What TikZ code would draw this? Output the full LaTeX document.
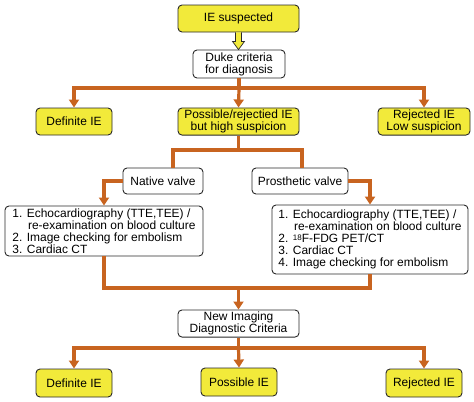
\documentclass[tikz,border=0pt]{standalone}
\usepackage{fontspec}
\setmainfont{Liberation Sans}
\usetikzlibrary{arrows.meta,calc}
\definecolor{ylw}{RGB}{242,234,58}
\definecolor{org}{RGB}{200,100,32}
\definecolor{bdr}{RGB}{40,40,40}
\begin{document}
\begin{tikzpicture}[x=1bp,y=-1bp, font=\fontsize{12}{12}\selectfont,
 box/.style={draw=bdr, line width=0.9bp, rounded corners=4bp, inner sep=2bp, align=center},
 ybox/.style={box, fill=ylw},
 wbox/.style={box, fill=white},
 lbox/.style={box, fill=white, align=left, inner xsep=4bp},
 oline/.style={draw=org, line width=3.2bp},
 oarr/.style={oline, -{Triangle[width=10bp,length=8bp]}}]
\useasboundingbox (0,0) rectangle (474,401);

\node[ybox, minimum width=121bp, minimum height=27bp] (ies) at (238.5,18.5) {IE suspected};
\node[wbox, minimum width=92bp, minimum height=28bp] (duke) at (239,64) {Duke criteria\\for diagnosis};
\node[ybox, minimum width=76bp, minimum height=27bp] (def1) at (74,121.5) {Definite IE};
\node[ybox, minimum width=121bp, minimum height=27bp] (poss1) at (238.5,121.5) {Possible/rejectied IE\\but high suspicion};
\node[ybox, minimum width=92bp, minimum height=27bp] (rej1) at (424,121.5) {Rejected IE\\Low suspicion};
\node[wbox, minimum width=80bp, minimum height=26bp] (native) at (163,181) {Native valve};
\node[wbox, minimum width=96bp, minimum height=26bp] (pros) at (300,181) {Prosthetic valve};
\node[lbox, minimum width=198bp, minimum height=50bp] (listL) at (104,231)
 {1. Echocardiography (TTE,TEE) /\\\hspace*{1.3em}re-examination on blood culture\\2. Image checking for embolism\\3. Cardiac CT};
\node[lbox, minimum width=196bp, minimum height=69bp] (listR) at (370,239.5)
 {1. Echocardiography (TTE,TEE) /\\\hspace*{1.3em}re-examination on blood culture\\2. {\fontsize{8}{8}\selectfont\raisebox{0.3em}{18}}F-FDG PET/CT\\3. Cardiac CT\\4. Image checking for embolism};
\node[wbox, minimum width=121bp, minimum height=27bp] (newimg) at (238.5,323.5) {New Imaging\\Diagnostic Criteria};
\node[ybox, minimum width=76bp, minimum height=28bp] (def2) at (74,383) {Definite IE};
\node[ybox, minimum width=76bp, minimum height=28bp] (poss2) at (239,382) {Possible IE};
\node[ybox, minimum width=76bp, minimum height=28bp] (rej2) at (424,383) {Rejected IE};

% hollow yellow arrow
\draw[bdr, fill=ylw, line width=0.7bp, line join=miter]
 ($(ies.south)+(-3,0)$) -- ($(ies.south)+(-3,9)$) -- ($(ies.south)+(-6,9)$) -- ($(duke.north)+(-0.5,0)$)
 -- ($(ies.south)+(6,9)$) -- ($(ies.south)+(3,9)$) -- ($(ies.south)+(3,0)$);

\coordinate (j1) at (239,88);
\coordinate (j2) at (238.5,150);
\coordinate (j3) at (238.5,288);
\coordinate (j4) at (238.5,348);

\draw[oline] (duke.south) -- (j1);
\draw[oarr] (j1) -| (def1.north);
\draw[oarr] (j1) -| (rej1.north);
\draw[oarr] (j1) -- (poss1.north);

\draw[oline] (poss1.south) -- (j2);
\draw[oline] (j2) -| ($(native.north)+(10,0)$);
\draw[oline] (j2) -| ($(pros.north)+(2,0)$);

\draw[oarr] (native.west) -| (listL.north);
\draw[oarr] (pros.east) -| (listR.north);

\draw[oline] (listL.south) |- (j3);
\draw[oline] (listR.south) |- (j3);
\draw[oarr] (j3) -- (newimg.north);

\draw[oline] (newimg.south) -- (j4);
\draw[oarr] (j4) -| (def2.north);
\draw[oarr] (j4) -| (rej2.north);
\draw[oarr] (j4) -- (poss2.north);
\end{tikzpicture}
\end{document}
